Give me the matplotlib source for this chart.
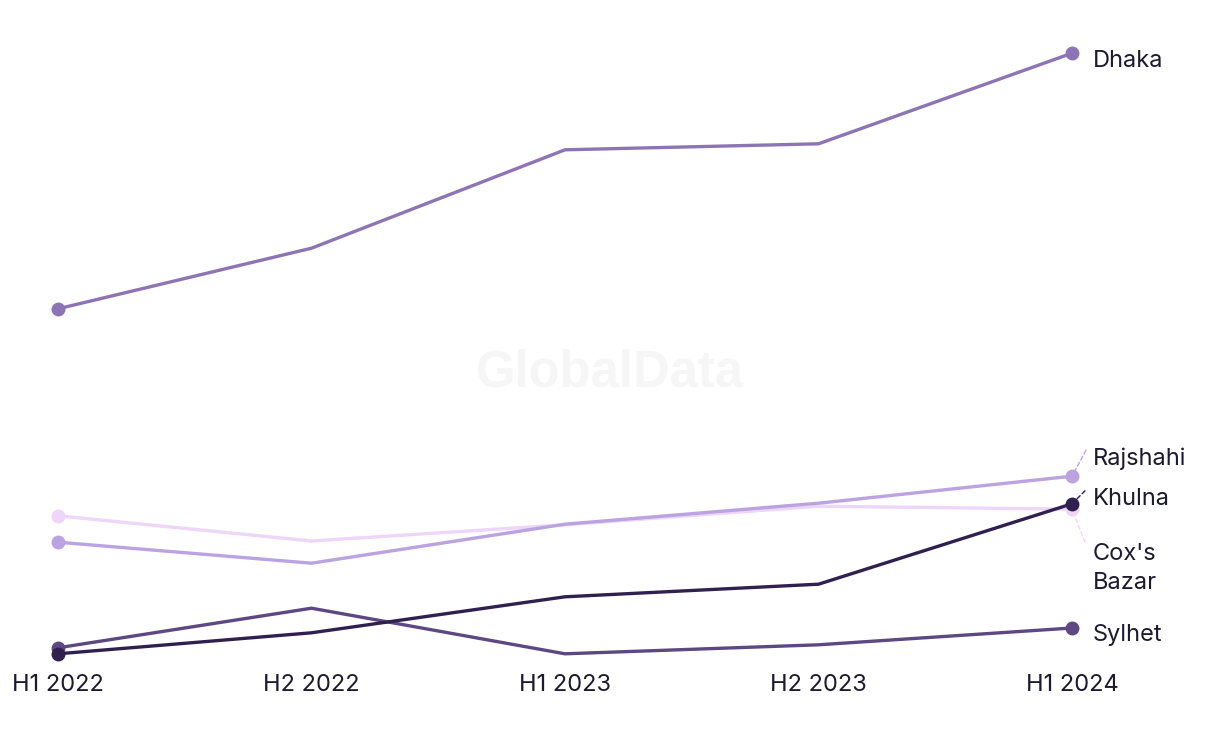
import matplotlib.pyplot as plt

# --- data (arbitrary units, no y axis shown) ---------------------------------
periods = ["H1 2022", "H2 2022", "H1 2023", "H2 2023", "H1 2024"]

dhaka = [60.2, 70.3, 86.7, 87.7, 102.8]
coxs_bazar = [25.7, 21.5, 24.2, 27.3, 26.8]
rajshahi = [21.3, 17.8, 24.3, 27.8, 32.3]
sylhet = [3.7, 10.3, 2.7, 4.2, 7.0]
khulna = [2.7, 6.2, 12.2, 14.3, 27.7]

# (name, values, colour, label offset in px (dx, dy), leader end in px or None)
SERIES = [
    ("Dhaka", dhaka, "#8d74b4", (21, -8), None),
    ("Cox's\nBazar", coxs_bazar, "#edd6f8", (21, -59), (13, -33)),
    ("Rajshahi", rajshahi, "#bba2e1", (21, 17), (14, 26)),
    ("Sylhet", sylhet, "#5d4882", (21, -7), None),
    ("Khulna", khulna, "#30204f", (21, 5), (13, 13)),
]

plt.rcParams["font.family"] = ["Inter", "DejaVu Sans"]

W, H = 1220, 744
PT = 0.72  # px -> pt at 100 dpi
fig = plt.figure(figsize=(W / 100, H / 100), dpi=100)
x0, x1 = 58, 1072
ybot, ytop = 670, 40
ax = fig.add_axes([x0 / W, (H - ybot) / H, (x1 - x0) / W, (ybot - ytop) / H])
ax.set_xlim(0, len(periods) - 1)
ax.set_ylim(0, (ybot - ytop) / 6.0)

# watermark
fig.text(610 / W, 1 - 373 / H, "GlobalData", ha="center", va="center",
         fontsize=36.5, fontweight="bold", color="#f6f6f6",
         family="Liberation Sans", zorder=0)

xs = list(range(len(periods)))
for name, vals, col, (dx, dy), leader in SERIES:
    ax.plot(xs, vals, color=col, lw=2.4, solid_capstyle="round", zorder=2)
    ax.plot([xs[0], xs[-1]], [vals[0], vals[-1]], "o", color=col, ms=9,
            clip_on=False, zorder=3)
    ax.annotate(name, (xs[-1], vals[-1]), xytext=(dx * PT, dy * PT),
                textcoords="offset points", ha="left", va="center",
                fontsize=17, color="#1c1a2e", linespacing=1.4,
                annotation_clip=False)
    if leader:
        ax.annotate("", (xs[-1], vals[-1]),
                    xytext=(leader[0] * PT, leader[1] * PT),
                    textcoords="offset points",
                    arrowprops=dict(arrowstyle="-", color=col, lw=1.0,
                                    ls=(0, (3, 2)), shrinkA=0, shrinkB=4),
                    annotation_clip=False)

ax.set_xticks(xs)
ax.set_xticklabels(periods, fontsize=17, color="#1c1a2e")
ax.tick_params(axis="x", length=0, pad=3)
ax.set_yticks([])
for s in ax.spines.values():
    s.set_visible(False)

fig.savefig("out.png", dpi=100, facecolor="white")
